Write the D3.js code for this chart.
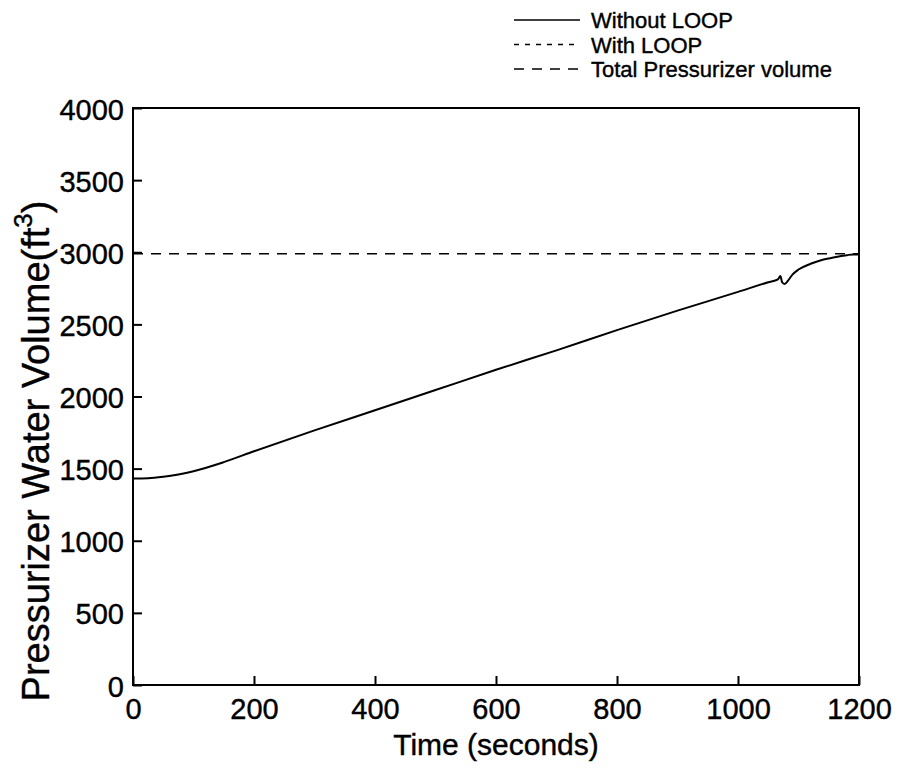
<!DOCTYPE html>
<html lang="en">
<head>
  <meta charset="UTF-8" />
  <title>Pressurizer Water Volume</title>
  <style>
    body { margin: 0; padding: 0; background: #fff; }
    svg { display: block; font-family: "Liberation Sans", Arial, Helvetica, sans-serif; }
    text { stroke: #000; stroke-width: 0.4px; }
  </style>
  <script src="https://d3js.org/d3.v7.min.js"></script>
</head>
<body>
  <svg width="897" height="774"></svg>

  <script>
    // time (s) and pressurizer water volume (ft^3)
    const timeSec = [0, 25, 50, 75, 100, 150, 200, 300, 400, 500, 600, 700, 800, 900, 1000, 1050, 1066, 1070, 1073, 1077, 1083, 1090, 1100, 1120, 1140, 1160, 1180, 1190, 1200];
    const withoutLoop = [1432, 1434, 1444, 1460, 1482, 1545, 1620, 1765, 1905, 2045, 2185, 2320, 2460, 2595, 2725, 2792, 2812, 2835, 2792, 2780, 2805, 2845, 2880, 2920, 2948, 2966, 2980, 2985, 2985];
    const totalVolume = 2990;

    const xTicks = [0, 200, 400, 600, 800, 1000, 1200];
    const yTicks = [0, 500, 1000, 1500, 2000, 2500, 3000, 3500, 4000];

    const legendItems = [
      { label: "Without LOOP", dash: null },
      { label: "With LOOP", dash: "5,6" },
      { label: "Total Pressurizer volume", dash: "10,8" }
    ];

    const svg = d3.select("svg");
    const margin = { left: 133, top: 108, right: 38, bottom: 89 };
    const width = 897 - margin.left - margin.right;
    const height = 774 - margin.top - margin.bottom;

    const x = d3.scaleLinear().domain([0, 1200]).range([0, width]);
    const y = d3.scaleLinear().domain([0, 4000]).range([height, 0]);

    const g = svg.append("g").attr("transform", `translate(${margin.left},${margin.top})`);

    // axes with inward ticks
    const xAxis = g.append("g")
      .attr("transform", `translate(0,${height})`)
      .call(d3.axisBottom(x).tickValues(xTicks).tickSize(-9).tickPadding(13).tickFormat(d3.format("d")));
    const yAxis = g.append("g")
      .call(d3.axisLeft(y).tickValues(yTicks).tickSize(-9).tickPadding(9).tickFormat(d3.format("d")));

    [xAxis, yAxis].forEach(a => {
      a.select(".domain").remove();
      a.selectAll(".tick line").attr("stroke", "#000").attr("stroke-width", 2);
      a.selectAll(".tick text").attr("fill", "#000").attr("font-size", 29).attr("font-family", null);
    });
    xAxis.selectAll(".tick text").attr("dy", "0.71em");
    yAxis.selectAll(".tick text").attr("dy", "0.38em");

    // total volume reference line
    g.append("line")
      .attr("x1", x(0)).attr("x2", x(1200))
      .attr("y1", y(totalVolume)).attr("y2", y(totalVolume))
      .attr("stroke", "#000").attr("stroke-width", 1.6)
      .attr("stroke-dasharray", "10,8");

    // main curve
    const line = d3.line()
      .x((d, i) => x(timeSec[i]))
      .y(d => y(d))
      .curve(d3.curveMonotoneX);

    g.append("path")
      .datum(withoutLoop)
      .attr("fill", "none")
      .attr("stroke", "#000")
      .attr("stroke-width", 2)
      .attr("d", line);

    // frame
    g.append("rect")
      .attr("width", width).attr("height", height)
      .attr("fill", "none").attr("stroke", "#000").attr("stroke-width", 2);

    // axis titles
    svg.append("text")
      .attr("x", margin.left + width / 2).attr("y", 755)
      .attr("text-anchor", "middle").attr("font-size", 30)
      .text("Time (seconds)");

    const yTitle = svg.append("text")
      .attr("transform", "translate(49,451) rotate(-90)")
      .attr("text-anchor", "middle").attr("font-size", 38);
    yTitle.append("tspan").text("Pressurizer Water Volume(ft");
    yTitle.append("tspan").attr("font-size", 26).attr("dy", -17).text("3");
    yTitle.append("tspan").attr("dy", 17).text(")");

    // legend
    const legend = svg.append("g").attr("transform", "translate(514,0)");
    legendItems.forEach((d, i) => {
      const yy = 28 + i * 24.5;
      legend.append("line")
        .attr("x1", 0).attr("x2", 66)
        .attr("y1", yy - 8).attr("y2", yy - 8)
        .attr("stroke", "#000").attr("stroke-width", 1.5)
        .attr("stroke-dasharray", d.dash);
      legend.append("text")
        .attr("x", 77).attr("y", yy)
        .attr("font-size", 22)
        .text(d.label);
    });
  </script>
</body>
</html>
